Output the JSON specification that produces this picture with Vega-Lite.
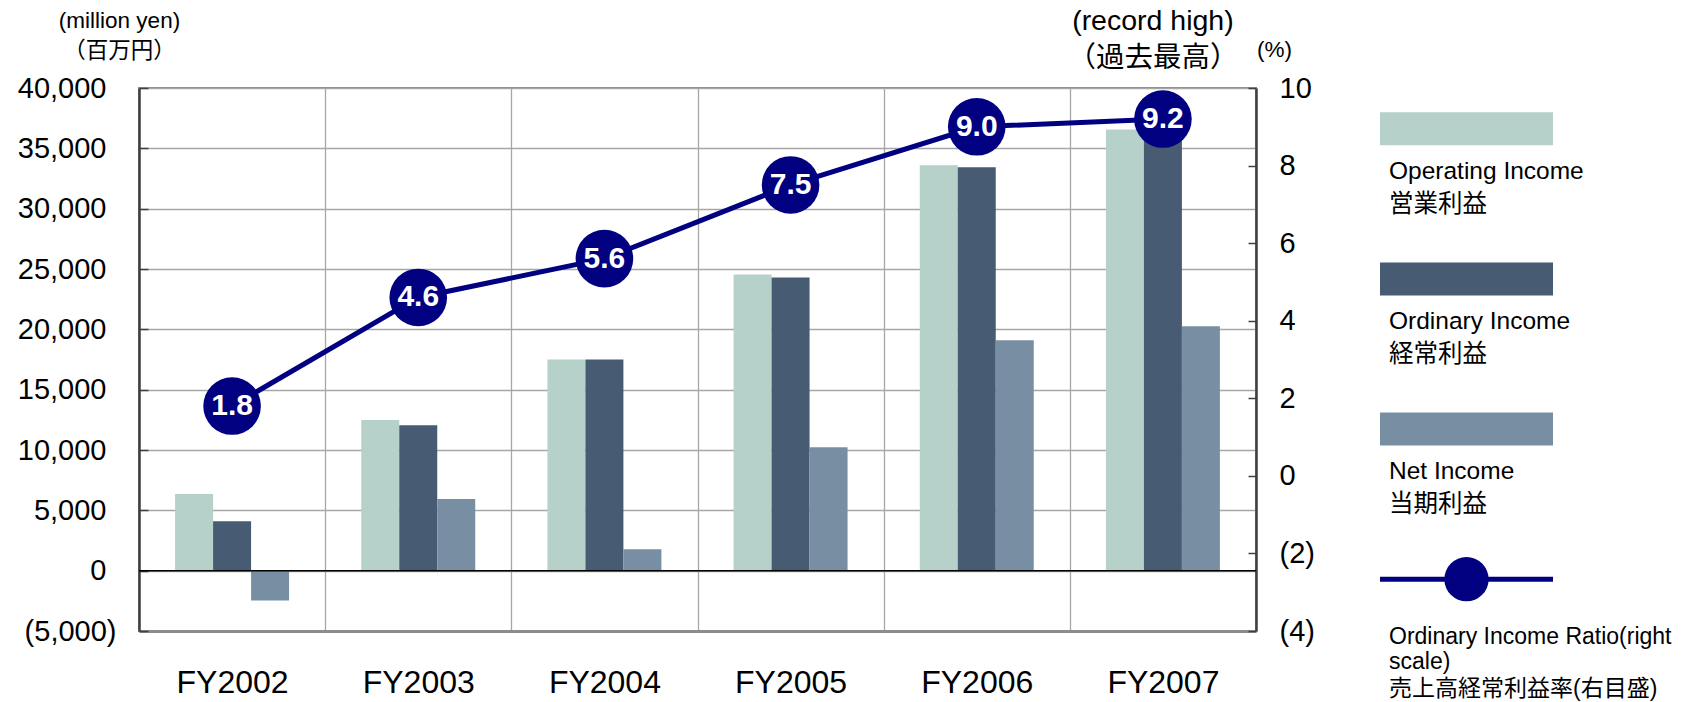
{
  "$schema": "https://vega.github.io/schema/vega-lite/v6.json",
  "background": "white",
  "padding": {"left": 16, "top": 6, "right": 0, "bottom": 0},
  "bounds": "flush",
  "spacing": 124,
  "config": {
    "font": "Liberation Sans, Arial, Noto Sans CJK JP, sans-serif",
    "axis": {"labelColor": "black", "titleColor": "black", "titleFontWeight": "normal", "labelFont": "Liberation Sans, Arial, Noto Sans CJK JP, sans-serif", "titleFont": "Liberation Sans, Arial, Noto Sans CJK JP, sans-serif"}
  },
  "datasets": {
    "bars": [
      {"year": "FY2002", "series": "Operating Income", "value": 6350},
      {"year": "FY2002", "series": "Ordinary Income", "value": 4100},
      {"year": "FY2002", "series": "Net Income", "value": -2480},
      {"year": "FY2003", "series": "Operating Income", "value": 12480},
      {"year": "FY2003", "series": "Ordinary Income", "value": 12060},
      {"year": "FY2003", "series": "Net Income", "value": 5940},
      {"year": "FY2004", "series": "Operating Income", "value": 17510},
      {"year": "FY2004", "series": "Ordinary Income", "value": 17510},
      {"year": "FY2004", "series": "Net Income", "value": 1780},
      {"year": "FY2005", "series": "Operating Income", "value": 24550},
      {"year": "FY2005", "series": "Ordinary Income", "value": 24300},
      {"year": "FY2005", "series": "Net Income", "value": 10230},
      {"year": "FY2006", "series": "Operating Income", "value": 33590},
      {"year": "FY2006", "series": "Ordinary Income", "value": 33430},
      {"year": "FY2006", "series": "Net Income", "value": 19100},
      {"year": "FY2007", "series": "Operating Income", "value": 36570},
      {"year": "FY2007", "series": "Ordinary Income", "value": 36300},
      {"year": "FY2007", "series": "Net Income", "value": 20260}
    ],
    "ratio": [
      {"year": "FY2002", "ratio": 1.8},
      {"year": "FY2003", "ratio": 4.6},
      {"year": "FY2004", "ratio": 5.6},
      {"year": "FY2005", "ratio": 7.5},
      {"year": "FY2006", "ratio": 9.0},
      {"year": "FY2007", "ratio": 9.2, "note": "(record high)\n（過去最高）"}
    ],
    "legend": [
      {"series": "Operating Income", "kind": "bar", "en": "Operating Income", "jp": "営業利益"},
      {"series": "Ordinary Income", "kind": "bar", "en": "Ordinary Income", "jp": "経常利益"},
      {"series": "Net Income", "kind": "bar", "en": "Net Income", "jp": "当期利益"},
      {"series": "Ordinary Income Ratio", "kind": "line", "en": "Ordinary Income Ratio(right", "en2": "scale)", "jp": "売上高経常利益率(右目盛)"}
    ]
  },
  "hconcat": [
    {
      "width": 1117,
      "height": 543,
      "view": {"stroke": "#8c8c8c", "strokeWidth": 2},
      "resolve": {"scale": {"y": "independent"}},
      "layer": [
        {
          "layer": [
            {
              "data": {"name": "bars"},
              "mark": {"type": "bar", "opacity": 1},
              "encoding": {
                "x": {
                  "field": "year", "type": "nominal", "sort": null,
                  "scale": {"paddingInner": 0, "paddingOuter": 0},
                  "axis": {"title": null, "labelAngle": 0, "labelFontSize": 32, "labelPadding": 36, "ticks": false, "tickBand": "extent", "domainColor": "#8c8c8c", "domainWidth": 3, "grid": true, "gridColor": "#a6a6a6", "gridWidth": 1.3}
                },
                "xOffset": {
                  "field": "series", "type": "nominal",
                  "sort": ["Operating Income", "Ordinary Income", "Net Income"],
                  "scale": {"paddingInner": 0, "paddingOuter": 0.95}
                },
                "y": {
                  "field": "value", "type": "quantitative",
                  "scale": {"domain": [-5000, 40000], "nice": false, "zero": false},
                  "axis": {
                    "title": ["(million yen)", "（百万円）"],
                    "titleAngle": 0, "titleAlign": "center", "titleBaseline": "bottom",
                    "titleX": -20, "titleY": -56, "titleFontSize": 22.5, "titleLineHeight": 30,
                    "values": [-5000, 0, 5000, 10000, 15000, 20000, 25000, 30000, 35000, 40000],
                    "labelExpr": "datum.value < 0 ? '(' + format(-datum.value, ',') + ')' : format(datum.value, ',')",
                    "labelFontSize": 29, "tickSize": -9, "tickColor": "#404040", "tickWidth": 1.5,
                    "labelPadding": {"condition": {"test": "datum.value < 0", "value": 32}, "value": 42},
                    "domainColor": "#404040", "domainWidth": 2.5,
                    "grid": true, "gridColor": "#a6a6a6", "gridWidth": 1.3
                  }
                },
                "color": {
                  "field": "series", "type": "nominal",
                  "scale": {"domain": ["Operating Income", "Ordinary Income", "Net Income", "Ordinary Income Ratio"], "range": ["#b5d1c9", "#475c73", "#788fa3", "#000080"]},
                  "legend": null
                }
              }
            },
            {
              "data": {"values": [{"zero": 0}]},
              "mark": {"type": "rule", "color": "black", "strokeWidth": 1.5},
              "encoding": {"y": {"field": "zero", "type": "quantitative"}}
            }
          ]
        },
        {
          "data": {"name": "ratio"},
          "encoding": {
            "x": {"field": "year", "type": "nominal", "sort": null},
            "y": {
              "field": "ratio", "type": "quantitative",
              "scale": {"domain": [-4, 10], "nice": false, "zero": false},
              "axis": {
                "orient": "right", "title": "(%)", "titleAngle": 0, "titleAlign": "center", "titleBaseline": "bottom",
                "titleX": 18, "titleY": -27, "titleFontSize": 22.5,
                "values": [-4, -2, 0, 2, 4, 6, 8, 10],
                "labelExpr": "datum.value < 0 ? '(' + (-datum.value) + ')' : '' + datum.value",
                "labelAlign": "left", "labelFontSize": 29, "tickSize": -8, "tickColor": "#404040", "tickWidth": 1.5, "labelPadding": 31,
                "domainColor": "#404040", "domainWidth": 2.5, "grid": false
              }
            }
          },
          "layer": [
            {"mark": {"type": "line", "color": "#000080", "strokeWidth": 5}},
            {"mark": {"type": "circle", "size": 3320, "color": "#000080", "opacity": 1}},
            {
              "mark": {"type": "text", "color": "white", "fontSize": 30, "fontWeight": "bold", "baseline": "middle", "align": "center"},
              "encoding": {"text": {"field": "ratio", "type": "quantitative", "format": ".1f"}}
            },
            {
              "transform": [{"filter": "datum.note"}],
              "mark": {"type": "text", "color": "black", "fontSize": 28.5, "lineBreak": "\n", "lineHeight": 37, "baseline": "bottom", "align": "center", "dx": -10, "dy": -83},
              "encoding": {"text": {"field": "note", "type": "nominal"}}
            }
          ]
        }
      ]
    },
    {
      "width": 173,
      "height": 532,
      "view": {"stroke": null},
      "data": {"name": "legend"},
      "encoding": {
        "y": {
          "field": "series", "type": "nominal",
          "scale": {"type": "point", "padding": 0.2716, "domain": ["Operating Income", "Ordinary Income", "Net Income", "Ordinary Income Ratio"]},
          "axis": null
        }
      },
      "layer": [
        {
          "transform": [{"filter": "datum.kind === 'bar'"}],
          "mark": {"type": "tick", "orient": "horizontal", "size": 173, "thickness": 33, "opacity": 1},
          "encoding": {
            "color": {
              "field": "series", "type": "nominal",
              "scale": {"domain": ["Operating Income", "Ordinary Income", "Net Income", "Ordinary Income Ratio"], "range": ["#b5d1c9", "#475c73", "#788fa3", "#000080"]},
              "legend": null
            }
          }
        },
        {
          "transform": [{"filter": "datum.kind === 'line'"}],
          "mark": {"type": "rule", "color": "#000080", "strokeWidth": 5},
          "encoding": {}
        },
        {
          "transform": [{"filter": "datum.kind === 'line'"}],
          "mark": {"type": "circle", "size": 1960, "color": "#000080", "opacity": 1},
          "encoding": {}
        },
        {
          "transform": [{"filter": "datum.kind === 'bar'"}],
          "mark": {"type": "text", "align": "left", "baseline": "middle", "fontSize": 24.5, "color": "black", "dx": -77.5, "dy": 43},
          "encoding": {"text": {"field": "en", "type": "nominal"}}
        },
        {
          "transform": [{"filter": "datum.kind === 'bar'"}],
          "mark": {"type": "text", "align": "left", "baseline": "middle", "fontSize": 24.5, "color": "black", "dx": -77.5, "dy": 76},
          "encoding": {"text": {"field": "jp", "type": "nominal"}}
        },
        {
          "transform": [{"filter": "datum.kind === 'line'"}],
          "mark": {"type": "text", "align": "left", "baseline": "middle", "fontSize": 23, "color": "black", "dx": -77.5, "dy": 58},
          "encoding": {"text": {"field": "en", "type": "nominal"}}
        },
        {
          "transform": [{"filter": "datum.kind === 'line'"}],
          "mark": {"type": "text", "align": "left", "baseline": "middle", "fontSize": 23, "color": "black", "dx": -77.5, "dy": 83},
          "encoding": {"text": {"field": "en2", "type": "nominal"}}
        },
        {
          "transform": [{"filter": "datum.kind === 'line'"}],
          "mark": {"type": "text", "align": "left", "baseline": "middle", "fontSize": 23, "color": "black", "dx": -77.5, "dy": 110},
          "encoding": {"text": {"field": "jp", "type": "nominal"}}
        }
      ]
    }
  ]
}
